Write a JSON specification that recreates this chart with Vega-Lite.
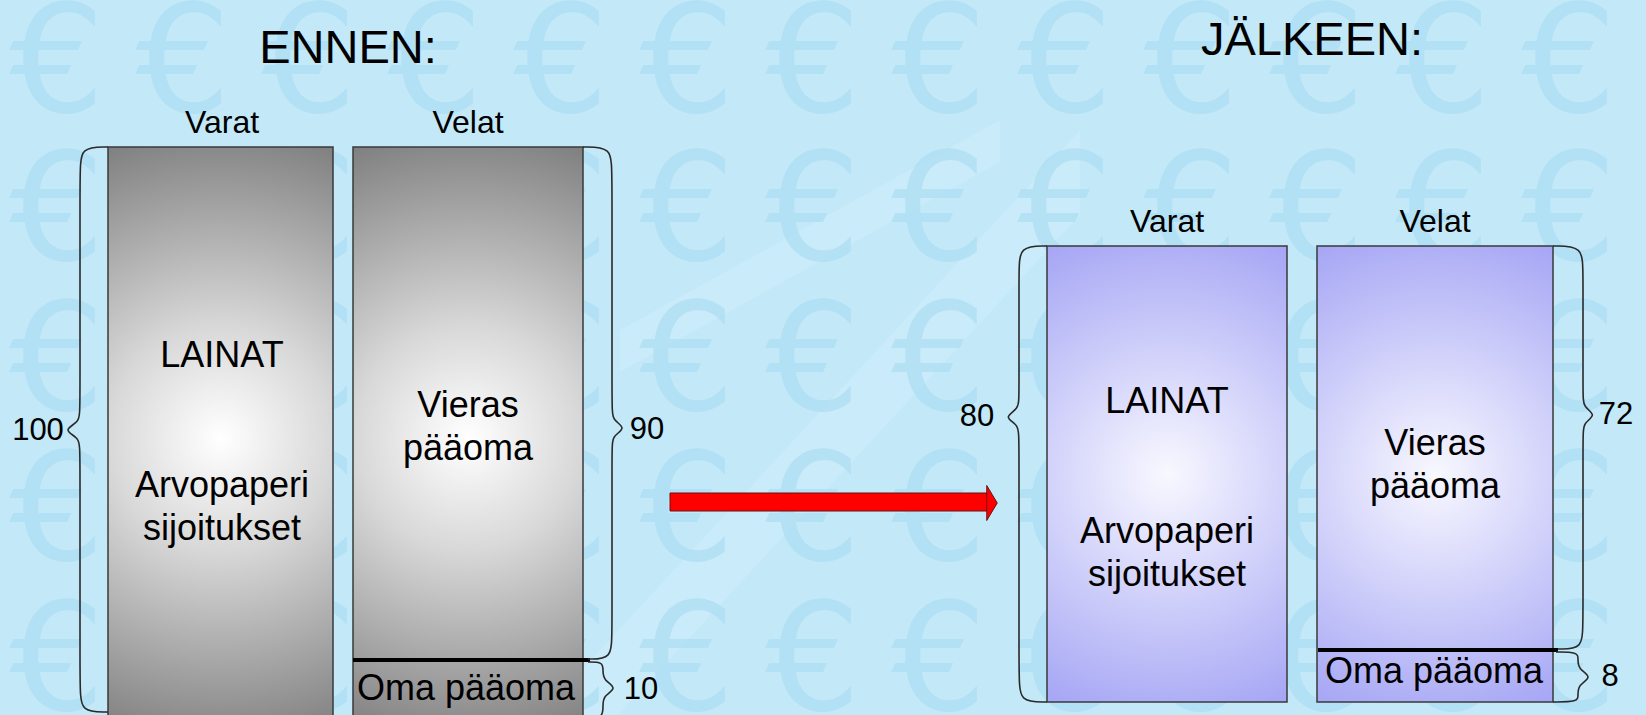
{
  "$schema": "https://vega.github.io/schema/vega-lite/v6.json",
  "width": 1646,
  "height": 715,
  "autosize": {"type": "none"},
  "padding": 0,
  "background": "#c3e8f8",
  "config": {"view": {"stroke": null}},
  "datasets": {
    "euros": [
      {"x":57,"y":112},{"x":183,"y":112},{"x":309,"y":112},{"x":435,"y":112},{"x":561,"y":112},{"x":687,"y":112},{"x":813,"y":112},{"x":939,"y":112},{"x":1065,"y":112},{"x":1191,"y":112},{"x":1317,"y":112},{"x":1443,"y":112},{"x":1569,"y":112},
      {"x":57,"y":260},{"x":183,"y":260},{"x":309,"y":260},{"x":435,"y":260},{"x":561,"y":260},{"x":687,"y":260},{"x":813,"y":260},{"x":939,"y":260},{"x":1065,"y":260},{"x":1191,"y":260},{"x":1317,"y":260},{"x":1443,"y":260},{"x":1569,"y":260},
      {"x":57,"y":410},{"x":183,"y":410},{"x":309,"y":410},{"x":435,"y":410},{"x":561,"y":410},{"x":687,"y":410},{"x":813,"y":410},{"x":939,"y":410},{"x":1065,"y":410},{"x":1191,"y":410},{"x":1317,"y":410},{"x":1443,"y":410},{"x":1569,"y":410},
      {"x":57,"y":560},{"x":183,"y":560},{"x":309,"y":560},{"x":435,"y":560},{"x":561,"y":560},{"x":687,"y":560},{"x":813,"y":560},{"x":939,"y":560},{"x":1065,"y":560},{"x":1191,"y":560},{"x":1317,"y":560},{"x":1443,"y":560},{"x":1569,"y":560},
      {"x":57,"y":710},{"x":183,"y":710},{"x":309,"y":710},{"x":435,"y":710},{"x":561,"y":710},{"x":687,"y":710},{"x":813,"y":710},{"x":939,"y":710},{"x":1065,"y":710},{"x":1191,"y":710},{"x":1317,"y":710},{"x":1443,"y":710},{"x":1569,"y":710}
    ],
    "bands": [
      {"band":"a","x":540,"y":715,"y2":800},
      {"band":"a","x":1080,"y":130,"y2":215},
      {"band":"b","x":620,"y":330,"y2":372},
      {"band":"b","x":1000,"y":120,"y2":162}
    ],
    "bars": [
      {"panel":"ENNEN","side":"Varat","x":108,"x2":333,"y":147,"y2":730},
      {"panel":"ENNEN","side":"Velat","x":353,"x2":583,"y":147,"y2":730},
      {"panel":"JÄLKEEN","side":"Varat","x":1047,"x2":1287,"y":246,"y2":702},
      {"panel":"JÄLKEEN","side":"Velat","x":1317,"x2":1553,"y":246,"y2":702}
    ],
    "dividers": [
      {"panel":"ENNEN","x":353,"x2":590,"y":660},
      {"panel":"JÄLKEEN","x":1318,"x2":1558,"y":650}
    ],
    "braces": [
      {"id":"100","i":0,"x":108,"y":147},{"id":"100","i":1,"x":80,"y":147},{"id":"100","i":2,"x":80,"y":172},{"id":"100","i":3,"x":80,"y":410},{"id":"100","i":4,"x":80,"y":422},{"id":"100","i":5,"x":62,"y":430},{"id":"100","i":6,"x":80,"y":438},{"id":"100","i":7,"x":80,"y":450},{"id":"100","i":8,"x":80,"y":687},{"id":"100","i":9,"x":80,"y":712},{"id":"100","i":10,"x":108,"y":712},
      {"id":"90","i":0,"x":583,"y":147},{"id":"90","i":1,"x":612,"y":147},{"id":"90","i":2,"x":612,"y":172},{"id":"90","i":3,"x":612,"y":408},{"id":"90","i":4,"x":612,"y":420},{"id":"90","i":5,"x":627,"y":428},{"id":"90","i":6,"x":612,"y":436},{"id":"90","i":7,"x":612,"y":448},{"id":"90","i":8,"x":612,"y":634},{"id":"90","i":9,"x":612,"y":659},{"id":"90","i":10,"x":588,"y":659},
      {"id":"10","i":0,"x":588,"y":662},{"id":"10","i":1,"x":603,"y":662},{"id":"10","i":2,"x":603,"y":670},{"id":"10","i":3,"x":603,"y":680},{"id":"10","i":4,"x":618,"y":688},{"id":"10","i":5,"x":603,"y":696},{"id":"10","i":6,"x":603,"y":706},{"id":"10","i":7,"x":603,"y":718},{"id":"10","i":8,"x":588,"y":718},
      {"id":"80","i":0,"x":1047,"y":246},{"id":"80","i":1,"x":1019,"y":246},{"id":"80","i":2,"x":1019,"y":271},{"id":"80","i":3,"x":1019,"y":397},{"id":"80","i":4,"x":1019,"y":409},{"id":"80","i":5,"x":1003,"y":417},{"id":"80","i":6,"x":1019,"y":425},{"id":"80","i":7,"x":1019,"y":437},{"id":"80","i":8,"x":1019,"y":677},{"id":"80","i":9,"x":1019,"y":702},{"id":"80","i":10,"x":1047,"y":702},
      {"id":"72","i":0,"x":1553,"y":246},{"id":"72","i":1,"x":1583,"y":246},{"id":"72","i":2,"x":1583,"y":271},{"id":"72","i":3,"x":1583,"y":395},{"id":"72","i":4,"x":1583,"y":407},{"id":"72","i":5,"x":1597,"y":415},{"id":"72","i":6,"x":1583,"y":423},{"id":"72","i":7,"x":1583,"y":435},{"id":"72","i":8,"x":1583,"y":624},{"id":"72","i":9,"x":1583,"y":649},{"id":"72","i":10,"x":1558,"y":649},
      {"id":"8","i":0,"x":1556,"y":652},{"id":"8","i":1,"x":1578,"y":652},{"id":"8","i":2,"x":1578,"y":659},{"id":"8","i":3,"x":1578,"y":669},{"id":"8","i":4,"x":1593,"y":677},{"id":"8","i":5,"x":1578,"y":685},{"id":"8","i":6,"x":1578,"y":695},{"id":"8","i":7,"x":1578,"y":702},{"id":"8","i":8,"x":1553,"y":702}
    ],
    "arrow": [{"x":670,"x2":990,"y":493,"y2":511}],
    "arrowhead": [{"x":992,"y":503}],
    "titles": [
      {"t":"ENNEN:","x":348,"y":63},
      {"t":"JÄLKEEN:","x":1312,"y":55}
    ],
    "headers": [
      {"t":"Varat","x":222,"y":133},
      {"t":"Velat","x":468,"y":133},
      {"t":"Varat","x":1167,"y":232},
      {"t":"Velat","x":1435,"y":232}
    ],
    "body": [
      {"t":"LAINAT","x":222,"y":367},
      {"t":"Arvopaperi","x":222,"y":497},
      {"t":"sijoitukset","x":222,"y":540},
      {"t":"Vieras","x":468,"y":417},
      {"t":"pääoma","x":468,"y":460},
      {"t":"Oma pääoma","x":466,"y":700},
      {"t":"LAINAT","x":1167,"y":413},
      {"t":"Arvopaperi","x":1167,"y":543},
      {"t":"sijoitukset","x":1167,"y":586},
      {"t":"Vieras","x":1435,"y":455},
      {"t":"pääoma","x":1435,"y":498},
      {"t":"Oma pääoma","x":1434,"y":683}
    ],
    "numbers": [
      {"t":"100","x":38,"y":431},
      {"t":"90","x":647,"y":430},
      {"t":"10","x":641,"y":690},
      {"t":"80","x":977,"y":417},
      {"t":"72","x":1616,"y":415},
      {"t":"8","x":1610,"y":677}
    ]
  },
  "encoding": {
    "x": {"field":"x","type":"quantitative","scale":{"domain":[0,1646],"nice":false,"zero":false},"axis":null},
    "y": {"field":"y","type":"quantitative","scale":{"domain":[0,715],"reverse":true,"nice":false,"zero":false},"axis":null}
  },
  "layer": [
    {
      "data": {"name":"bands"},
      "mark": {"type":"area","color":"#ffffff","opacity":0.13,"interpolate":"linear"},
      "encoding": {"y2":{"field":"y2"},"detail":{"field":"band"}}
    },
    {
      "data": {"name":"euros"},
      "mark": {"type":"text","text":"€","font":"DejaVu Sans","fontSize":150,"align":"center","baseline":"alphabetic","color":"#a8dbf2","opacity":0.6}
    },
    {
      "data": {"name":"bars"},
      "transform": [{"filter":"datum.panel === 'ENNEN'"}],
      "mark": {"type":"rect","stroke":"#3a3a3a","strokeWidth":1.5,
        "fill":{"gradient":"radial","x1":0.5,"y1":0.5,"r1":0,"x2":0.5,"y2":0.5,"r2":0.55,
          "stops":[{"offset":0,"color":"#ffffff"},{"offset":0.35,"color":"#d8d8d8"},{"offset":1,"color":"#7c7c7c"}]}},
      "encoding": {"x2":{"field":"x2"},"y2":{"field":"y2"}}
    },
    {
      "data": {"name":"bars"},
      "transform": [{"filter":"datum.panel === 'JÄLKEEN'"}],
      "mark": {"type":"rect","stroke":"#3a3a3a","strokeWidth":1.5,
        "fill":{"gradient":"radial","x1":0.5,"y1":0.5,"r1":0,"x2":0.5,"y2":0.5,"r2":0.55,
          "stops":[{"offset":0,"color":"#f8f8ff"},{"offset":0.35,"color":"#dcdcfc"},{"offset":1,"color":"#a7a7f5"}]}},
      "encoding": {"x2":{"field":"x2"},"y2":{"field":"y2"}}
    },
    {
      "data": {"name":"dividers"},
      "mark": {"type":"rule","color":"#000000","strokeWidth":4},
      "encoding": {"x2":{"field":"x2"}}
    },
    {
      "data": {"name":"braces"},
      "mark": {"type":"line","interpolate":"basis","stroke":"#2a2a2a","strokeWidth":1.6},
      "encoding": {"detail":{"field":"id"},"order":{"field":"i","type":"quantitative"}}
    },
    {
      "data": {"name":"arrow"},
      "mark": {"type":"rect","fill":"#ff0000","stroke":"#6b1010","strokeWidth":1},
      "encoding": {"x2":{"field":"x2"},"y2":{"field":"y2"}}
    },
    {
      "data": {"name":"arrowhead"},
      "mark": {"type":"point","shape":"M -0.3 -1 L 0.3 0 L -0.3 1 Z","size":1225,"filled":true,"fill":"#ff0000","stroke":"#6b1010","strokeWidth":1,"opacity":1}
    },
    {
      "data": {"name":"titles"},
      "mark": {"type":"text","font":"Liberation Sans","fontSize":47,"align":"center","baseline":"alphabetic","color":"#000000"},
      "encoding": {"text":{"field":"t"}}
    },
    {
      "data": {"name":"headers"},
      "mark": {"type":"text","font":"Liberation Sans","fontSize":32,"align":"center","baseline":"alphabetic","color":"#000000"},
      "encoding": {"text":{"field":"t"}}
    },
    {
      "data": {"name":"body"},
      "mark": {"type":"text","font":"Liberation Sans","fontSize":36,"align":"center","baseline":"alphabetic","color":"#000000"},
      "encoding": {"text":{"field":"t"}}
    },
    {
      "data": {"name":"numbers"},
      "mark": {"type":"text","font":"Liberation Sans","fontSize":31,"align":"center","baseline":"middle","color":"#000000"},
      "encoding": {"text":{"field":"t"}}
    }
  ]
}
